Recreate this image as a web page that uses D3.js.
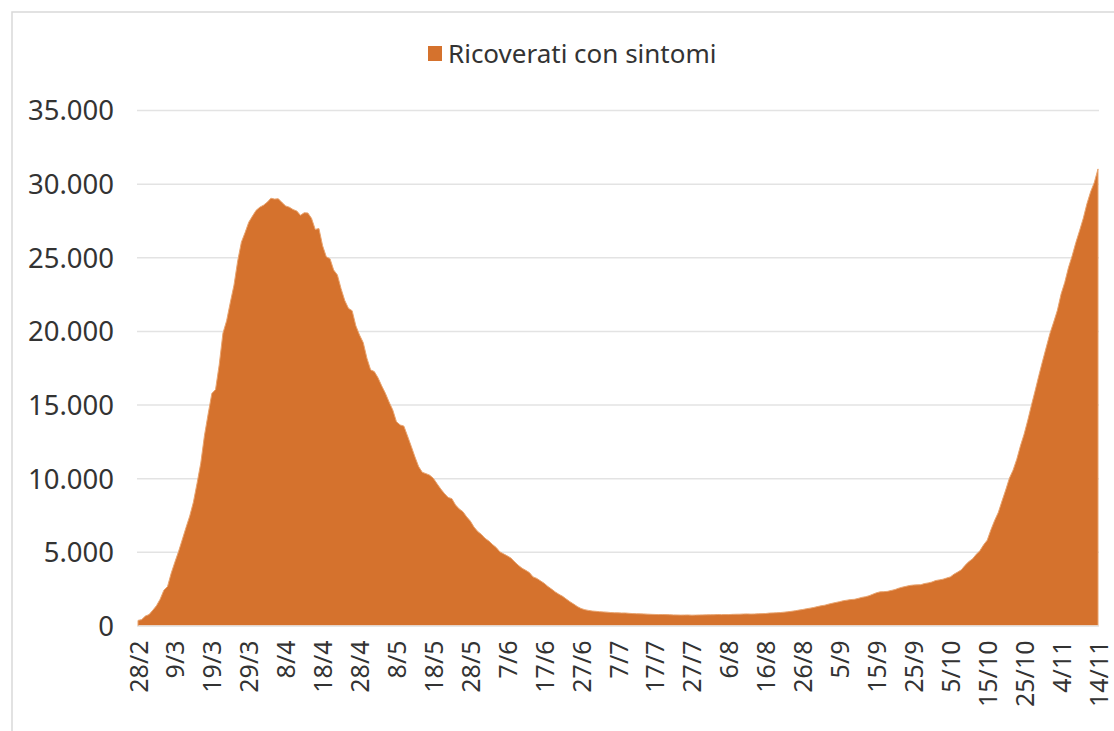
<!DOCTYPE html>
<html lang="it">
<head>
<meta charset="utf-8">
<script src="https://cdn.jsdelivr.net/npm/d3@7/dist/d3.min.js"></script>
<style>
  html, body { margin: 0; padding: 0; background: #ffffff; }
  svg { display: block; font-family: "Noto Sans", "Open Sans", sans-serif; }
</style>
</head>
<body>
<svg id="chart" width="1114" height="731"></svg>
<script>
// Ricoverati con sintomi, valori giornalieri dal 28/2 al 14/11
const seriesName = "Ricoverati con sintomi";
const startDate = "2020-02-28";

const febValues = [345, 401];
const marValues = [639, 742, 1034, 1346, 1790, 2394, 2651, 3557, 4316, 5038,
  5838, 6650, 7426, 8372, 9663, 11025, 12894, 14363, 15757, 16020,
  17708, 19846, 20692, 21937, 23112, 24753, 26029, 26676, 27386, 27795, 28192];
const aprValues = [28403, 28540, 28741, 29010, 28949, 28976, 28718, 28485, 28399, 28242,
  28144, 27847, 28023, 28011, 27643, 26893, 26952, 25786, 25033, 24906,
  24134, 23805, 22871, 22068, 21533, 21372, 20353, 19723, 19210, 18149];
const mayValues = [17357, 17242, 16823, 16270, 15769, 15174, 14636, 13834, 13618, 13539,
  12865, 12172, 11453, 10792, 10400, 10311, 10207, 9991, 9624, 9269,
  8957, 8695, 8613, 8185, 7917, 7729, 7379, 7094, 6680, 6387, 6186];
const junValues = [5916, 5742, 5503, 5301, 5002, 4864, 4729, 4581, 4320, 4091,
  3893, 3747, 3594, 3301, 3199, 3032, 2867, 2655, 2474, 2282,
  2119, 1980, 1796, 1613, 1454, 1283, 1153, 1074, 1025, 984];
const julValues = [962, 938, 921, 906, 880, 866, 861, 848, 849, 827,
  809, 799, 791, 783, 771, 758, 749, 742, 747, 739,
  732, 718, 713, 705, 710, 714, 701, 705, 713, 719, 724];
const augValues = [729, 732, 746, 738, 743, 741, 757, 764, 768, 779,
  787, 774, 782, 797, 805, 814, 843, 855, 866, 879,
  907, 932, 965, 1001, 1045, 1085, 1135, 1178, 1224, 1283, 1338];
const sepValues = [1380, 1450, 1508, 1563, 1617, 1680, 1719, 1760, 1777, 1836,
  1908, 1951, 2020, 2122, 2222, 2285, 2297, 2319, 2380, 2437,
  2531, 2604, 2658, 2717, 2746, 2760, 2773, 2846, 2891, 2950];
const octValues = [3048, 3097, 3142, 3223, 3300, 3487, 3625, 3782, 4086, 4336,
  4519, 4821, 5076, 5470, 5796, 6500, 7131, 7676, 8454, 9200,
  10000, 10549, 11287, 12200, 12997, 13955, 14981, 15964, 16994, 17966, 18902];
const novValues = [19840, 20600, 21400, 22500, 23300, 24300, 25100, 26000, 26800, 27636,
  28633, 29444, 30081, 31000];

const tickLabels = ["28/2", "9/3", "19/3", "29/3", "8/4", "18/4", "28/4", "8/5", "18/5",
  "28/5", "7/6", "17/6", "27/6", "7/7", "17/7", "27/7", "6/8", "16/8", "26/8",
  "5/9", "15/9", "25/9", "5/10", "15/10", "25/10", "4/11", "14/11"];
const yTicks = [0, 5000, 10000, 15000, 20000, 25000, 30000, 35000];

const values = [].concat(febValues, marValues, aprValues, mayValues, junValues,
  julValues, augValues, sepValues, octValues, novValues);

// category labels "g/m", one per day
const first = d3.timeParse("%Y-%m-%d")(startDate);
const categories = values.map((v, i) => {
  const d = d3.timeDay.offset(first, i);
  return d.getDate() + "/" + (d.getMonth() + 1);
});
const data = categories.map((c, i) => ({ cat: c, value: values[i] }));

const itLocale = d3.formatLocale({ decimal: ",", thousands: ".", grouping: [3], currency: ["€", ""] });
const fmt = itLocale.format(",");

const svg = d3.select("#chart");
const plot = { left: 138, right: 1098, top: 110, bottom: 625.5 };
const orange = "#d5722d";
const textColor = "#333333";

// chart frame
svg.append("path")
  .attr("d", "M12,731 L12,12 L1114,12")
  .attr("fill", "none")
  .attr("stroke", "#d9d9d9")
  .attr("stroke-width", 1.5);

const x = d3.scalePoint().domain(categories).range([plot.left, plot.right]);
const y = d3.scaleLinear().domain([0, 35000]).range([plot.bottom, plot.top]);

// horizontal gridlines
const gridAxis = d3.axisLeft(y).tickValues(yTicks)
  .tickSize(-(plot.right - plot.left + 2)).tickFormat("");
svg.append("g")
  .attr("transform", `translate(${plot.left - 1},0)`)
  .call(gridAxis)
  .call(g => g.select(".domain").remove())
  .call(g => g.selectAll(".tick line").attr("stroke", "#e3e3e3").attr("stroke-width", 1.5));

// y axis labels
svg.append("g")
  .attr("transform", `translate(${plot.left - 24},0)`)
  .call(d3.axisLeft(y).tickValues(yTicks).tickSize(0).tickPadding(0).tickFormat(fmt))
  .call(g => g.select(".domain").remove())
  .call(g => g.selectAll("text")
    .attr("fill", textColor)
    .attr("font-size", 27.5)
    .attr("font-family", "'Noto Sans', sans-serif")
    .attr("dy", "0.36em"));

// area
const area = d3.area()
  .x(d => x(d.cat))
  .y0(y(0))
  .y1(d => y(d.value));

svg.append("path")
  .datum(data)
  .attr("d", area)
  .attr("fill", orange)
  .attr("stroke", "#e9a46f")
  .attr("stroke-width", 1)
  .attr("stroke-linejoin", "round");

// x axis baseline and labels
svg.append("g")
  .attr("transform", `translate(0,${plot.bottom})`)
  .call(d3.axisBottom(x).tickValues(tickLabels).tickSize(0).tickPadding(0))
  .call(g => g.select(".domain").attr("stroke", "#e6e6e6").attr("stroke-width", 1.5))
  .call(g => g.selectAll("text")
    .attr("fill", textColor)
    .attr("font-size", 25)
    .attr("font-family", "'Noto Sans', sans-serif")
    .attr("text-anchor", "end")
    .attr("transform", "translate(0,15) rotate(-90)")
    .attr("x", 0)
    .attr("y", 0)
    .attr("dy", "0.36em"));

// legend
const legend = svg.append("g").attr("transform", "translate(428,46)");
legend.append("rect")
  .attr("width", 14).attr("height", 15)
  .attr("fill", orange);
legend.append("text")
  .attr("x", 20).attr("y", 8)
  .attr("dy", "0.36em")
  .attr("font-size", 26)
  .attr("fill", textColor)
  .text(seriesName);
</script>
</body>
</html>
